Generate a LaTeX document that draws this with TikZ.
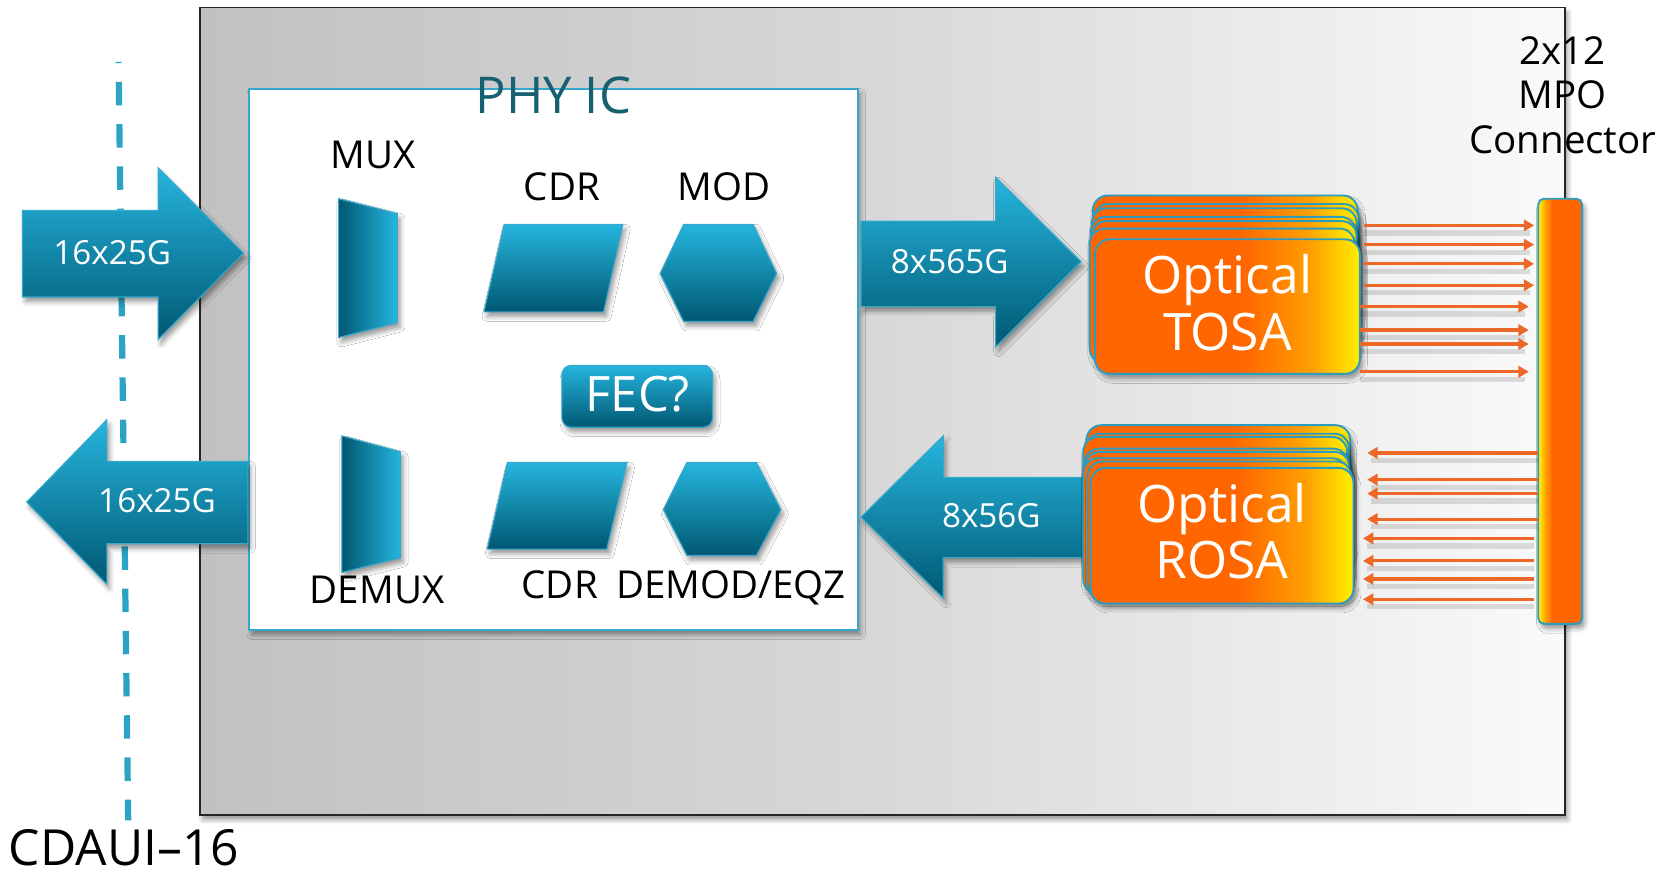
\documentclass[tikz,border=0pt]{standalone}
\usepackage{fontspec}
\setmainfont{Open Sans}
\usetikzlibrary{arrows.meta,shadows.blur,calc}

\definecolor{tealL}{RGB}{38,181,222}
\definecolor{tealD}{RGB}{0,88,114}
\definecolor{tealE}{RGB}{54,168,204}
\definecolor{dashC}{RGB}{43,163,196}
\definecolor{phyC}{RGB}{22,96,112}
\definecolor{grayA}{RGB}{193,193,193}
\definecolor{grayB}{RGB}{216,216,216}
\definecolor{grayC}{RGB}{250,250,250}
\definecolor{oaOrange}{RGB}{255,102,0}
\definecolor{oaMid}{RGB}{255,160,0}
\definecolor{oaYellow}{RGB}{255,240,0}
\definecolor{fiberC}{RGB}{236,104,40}
\definecolor{osaEdge}{RGB}{44,157,192}

% orange-to-yellow fill of the optical sub-assemblies
\pgfdeclarehorizontalshading{osashade}{100bp}{color(0bp)=(oaOrange); color(25bp)=(oaOrange); color(53bp)=(oaOrange); color(66bp)=(oaMid); color(75bp)=(oaYellow); color(100bp)=(oaYellow)}
% connector bar: thin yellow strip on its left side
\pgfdeclarehorizontalshading{mposhade}{100bp}{color(0bp)=(oaYellow); color(26bp)=(oaYellow); color(33bp)=(oaMid); color(41bp)=(oaOrange); color(100bp)=(oaOrange)}

\tikzset{
  shd/.style={blur shadow={shadow xshift=1.5pt, shadow yshift=-2.5pt, shadow blur radius=2.5pt, shadow opacity=40}},
  bigarrow/.style={top color=tealL, bottom color=tealD, draw=tealE, line width=0.6pt, shd},
  blockshape/.style={top color=tealL, bottom color=tealD, draw=tealE, line width=0.6pt, shd},
  muxshape/.style={left color=tealD, right color=tealL, draw=tealE, line width=0.6pt, shd},
  osalayer/.style={shading=osashade, draw=osaEdge, line width=1pt, rounded corners=8pt, shd},
  osafront/.style={osalayer, inner sep=0pt, rectangle},
  mpobox/.style={shading=mposhade, draw=osaEdge, line width=1pt, rounded corners=3pt, shd, inner sep=0pt, rectangle},
  lbl/.style={font=\fontsize{20.5}{24}\selectfont, text=black, inner sep=0pt, anchor=base},
  arrowtext/.style={font=\fontsize{17.7}{20}\selectfont, text=white, inner sep=0pt, anchor=base},
  osatext/.style={font=\fontsize{27.5}{32}\selectfont, text=white, inner sep=0pt, anchor=base},
  fiber/.style={draw=fiberC, line width=1.7pt, -{Triangle[length=5.5pt,width=6pt]}},
  fibershadow/.style={draw=black, draw opacity=0.12, line width=2.8pt, transform canvas={yshift=-4pt}},
  dashline/.style={draw=dashC, line width=3.3pt, dash pattern=on 12.5pt off 10pt, dash phase=11.9pt},
}

\begin{document}
\begin{tikzpicture}[x=0.02cm, y=-0.02cm]
\useasboundingbox (0,0) rectangle (1568,817);

% module outline
\path[left color=grayA, right color=grayC, middle color=grayB, draw=black!85, line width=0.8pt, shd]
  (187,7) rectangle (1465,763);

% electrical interface boundary
\coordinate (dtop) at (111,58);
\coordinate (dbot) at (120,768);
\draw[dashline] (dtop) -- (dbot);
\node[font=\fontsize{26.5}{30}\selectfont, inner sep=0pt, anchor=base west] (cdaui) at (8,810) {CDAUI--16};

% PHY chip
\path[fill=white, draw=tealE, line width=1pt, shd] (233,83) rectangle (803,590);
\node[font=\fontsize{27}{30}\selectfont, text=phyC, inner sep=0pt, anchor=base] (phy) at (518,106) {PHY IC};

% MUX / DEMUX
\path[muxshape] (317,186) -- (372,200) -- (372,302) -- (317,316) -- cycle;
\path[muxshape] (320,408) -- (375,423) -- (375,522) -- (320,536) -- cycle;
\node[lbl] (mux) at (349,158) {MUX};
\node[lbl] (demux) at (353,565) {DEMUX};

% CDR blocks
\path[blockshape] (472,210) -- (583,210) -- (565,292) -- (453,292) -- cycle;
\path[blockshape] (475,433) -- (587,433) -- (568,514) -- (456,514) -- cycle;
\node[lbl] (cdrT) at (526,188) {CDR};
\node[lbl] (cdrB) at (524,560) {CDR};

% modulator / demodulator
\path[blockshape] (640,210) -- (705,210) -- (727,256) -- (705,301) -- (640,301) -- (618,256) -- cycle;
\path[blockshape] (643,433) -- (708,433) -- (731,477) -- (708,520) -- (643,520) -- (621,477) -- cycle;
\node[lbl] (mod) at (678,188) {MOD};
\node[lbl] (demod) at (684,560) {DEMOD/EQZ};

% FEC
\path[blockshape, rounded corners=5pt] (526,342) rectangle (667,400);
\node[font=\fontsize{26}{30}\selectfont, text=white, inner sep=0pt, anchor=base] (fec) at (597,385) {FEC?};

% host side lanes
\path[bigarrow] (21,197) -- (148,197) -- (148,157) -- (228,237) -- (148,318) -- (148,278) -- (21,278) -- cycle;
\node[arrowtext] (inA) at (105,248) {16x25G};
\path[bigarrow] (232,432) -- (100,432) -- (100,393) -- (25,470) -- (100,547) -- (100,509) -- (232,509) -- cycle;
\node[arrowtext] (outA) at (147,480) {16x25G};

% line side lanes
\path[bigarrow] (806,207) -- (932,207) -- (932,166) -- (1012,245) -- (932,325) -- (932,287) -- (806,287) -- cycle;
\node[arrowtext] (txA) at (889,256) {8x565G};
\path[bigarrow] (1015,447) -- (883,447) -- (883,408) -- (806,484) -- (883,560) -- (883,522) -- (1015,522) -- cycle;
\node[arrowtext] (rxA) at (928,494) {8x56G};

% TOSA stack
\foreach \lx/\ty in {1023/183, 1024/191, 1022/195, 1021/203, 1022/207, 1020/214}
  \path[osalayer] (\lx,\ty) rectangle ++(248,126);
\node[osafront, minimum width=4.96cm, minimum height=2.52cm] (tosa) at (1149,287) {};
\node[osatext] (tosa1) at (1149,275) {Optical};
\node[osatext] (tosa2) at (1149,328) {TOSA};

% ROSA stack
\foreach \lx/\ty in {1017/398, 1016/406, 1014/409, 1015/420, 1016/423, 1014/429, 1018/432}
  \path[osalayer] (\lx,\ty) rectangle ++(247,127);
\node[osafront, minimum width=4.92cm, minimum height=2.54cm] (rosa) at (1144,501.5) {};
\node[osatext] (rosa1) at (1144,489) {Optical};
\node[osatext] (rosa2) at (1144,542) {ROSA};

% MPO connector
\node[mpobox, minimum width=0.82cm, minimum height=7.96cm] (mpo) at (1460.5,385) {};
\node[lbl] (mpo1) at (1463,60) {2x12};
\node[lbl] (mpo2) at (1463,102) {MPO};
\node[lbl] (mpo3) at (1463,144) {Connector};

% transmit fibres (soft shadow first, then the fibre)
\foreach \yy/\a/\b in {211/3/-3, 229/3/-3, 247/3/-3, 267/3/-3, 287/-1/-8, 309/-1/-8, 322/-1/-8, 348/-1/-8}{
  \draw[fibershadow] ($(tosa.east |- 0,\yy)+(\a,0)$) -- ($(mpo.west |- 0,\yy)+(\b-4,0)$);
  \draw[fiber] ($(tosa.east |- 0,\yy)+(\a,0)$) -- ($(mpo.west |- 0,\yy)+(\b,0)$);
}

% receive fibres
\foreach \yy/\a/\b in {424/12/1, 449/12/1, 462/12/1, 486/12/1, 504/8/-3, 525/8/-3, 542/8/-3, 561/8/-3}{
  \draw[fibershadow] ($(mpo.west |- 0,\yy)+(\b,0)$) -- ($(rosa.east |- 0,\yy)+(\a+4,0)$);
  \draw[fiber] ($(mpo.west |- 0,\yy)+(\b,0)$) -- ($(rosa.east |- 0,\yy)+(\a,0)$);
}
\end{tikzpicture}
\end{document}
